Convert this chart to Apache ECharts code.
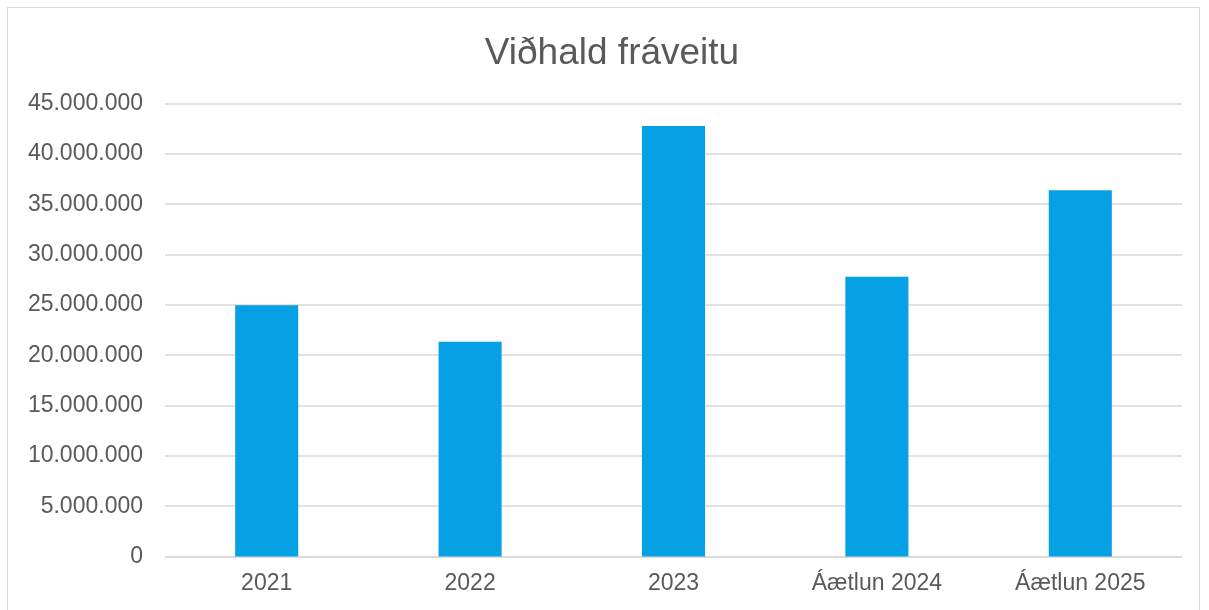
<!DOCTYPE html>
<html>
<head>
<meta charset="utf-8">
<script src="https://cdn.jsdelivr.net/npm/echarts@6/dist/echarts.min.js"></script>
<style>
  html, body { margin: 0; padding: 0; background: #fff; overflow: hidden; }
  #frame {
    position: absolute; left: 7px; top: 7px; width: 1193px; height: 640px;
    border: 1px solid #D9D9D9; box-sizing: border-box;
  }
  #chart { position: absolute; left: 0; top: 0; width: 1209px; height: 610px; }
</style>
</head>
<body>
<div id="frame"></div>
<div id="chart"></div>
<script>
// flokkar og gildi (kr.)
const categories = ["2021", "2022", "2023", "Áætlun 2024", "Áætlun 2025"];
const viðhald = [24950000, 21340000, 42760000, 27800000, 36380000];
const yTicks = { min: 0, max: 45000000, interval: 5000000 };

const chart = echarts.init(document.getElementById("chart"));

// punktar sem þúsundaskil
function fmt(v) {
  return String(v).replace(/\B(?=(\d{3})+(?!\d))/g, ".");
}

chart.setOption({
  animation: false,
  title: {
    text: "Viðhald fráveitu",
    left: 607,
    textAlign: "center",
    top: 30,
    textStyle: {
      fontFamily: "Liberation Sans, Arial, sans-serif",
      fontSize: 37,
      fontWeight: "normal",
      color: "#595959",
    },
  },
  grid: {
    left: 165,
    right: 27,
    top: 103.5,
    bottom: 53.5,
  },
  xAxis: {
    type: "category",
    data: categories,
    axisLine: { lineStyle: { color: "#D9D9D9", width: 1.5 } },
    axisTick: { show: false },
    axisLabel: {
      color: "#595959",
      fontFamily: "Liberation Sans, Arial, sans-serif",
      fontSize: 23,
      margin: 16,
    },
  },
  yAxis: {
    type: "value",
    min: yTicks.min,
    max: yTicks.max,
    interval: yTicks.interval,
    axisLine: { show: false },
    axisTick: { show: false },
    splitLine: { lineStyle: { color: "#D9D9D9", width: 1.5 } },
    axisLabel: {
      color: "#595959",
      fontFamily: "Liberation Sans, Arial, sans-serif",
      fontSize: 23,
      margin: 22,
      formatter: fmt,
    },
  },
  series: [
    {
      name: "Viðhald fráveitu",
      type: "bar",
      data: viðhald,
      barWidth: "31%",
      itemStyle: { color: "#05A1E4" },
    },
  ],
});
</script>
</body>
</html>
